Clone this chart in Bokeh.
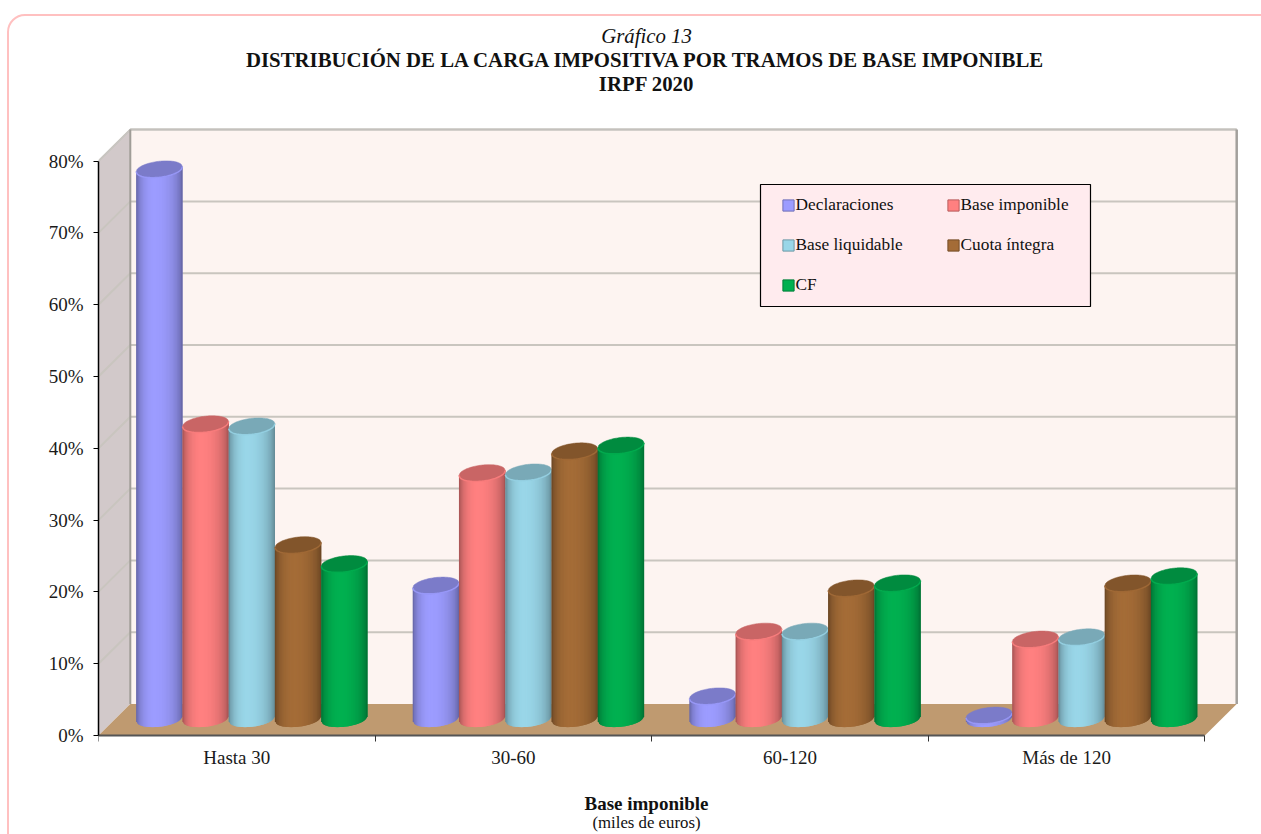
import math
from bokeh.plotting import figure
from bokeh.embed import file_html
from bokeh.resources import INLINE
from bokeh.models import (ColumnDataSource, Range1d, LinearAxis, FixedTicker, Label,
                          Legend, LegendItem, InlineStyleSheet)

# ---------- data ----------
categories = ["Hasta 30", "30-60", "60-120", "Más de 120"]
series_names = ["Declaraciones", "Base imponible", "Base liquidable", "Cuota íntegra", "CF"]
declaraciones = [76.67, 18.7, 3.27, 0.6]
base_imponible = [41.17, 34.36, 12.29, 11.19]
base_liquidable = [40.87, 34.46, 12.29, 11.5]
cuota_integra = [24.33, 37.4, 18.31, 19.0]
cf = [21.7, 38.2, 19.01, 20.0]
series_values = [declaraciones, base_imponible, base_liquidable, cuota_integra, cf]
series_colors = ["#9c9cff", "#ff8080", "#99d6e8", "#a46c37", "#00b050"]
y_ticks = [0, 10, 20, 30, 40, 50, 60, 70, 80]
y_tick_labels = ["0%", "10%", "20%", "30%", "40%", "50%", "60%", "70%", "80%"]

# ---------- geometry (page pixels -> data) ----------
W, H = 1261, 834
X0, Y0 = 98.0, 735.0          # page position of the axes origin
PX_X, PX_Y = 276.6, 7.18      # pixels per category, pixels per percent
def px(x): return (x - X0) / PX_X
def py(y): return (Y0 - y) / PX_Y
DX, DY = 31.8 / PX_X, 31.5 / PX_Y  # 3D depth
SERIF = "Liberation Serif"

p = figure(frame_width=W - 98, frame_height=H, output_backend="svg", toolbar_location=None,
           x_range=Range1d(0, px(W)), y_range=Range1d(py(H), py(0)),
           min_border_left=98, min_border_right=0, min_border_top=0, min_border_bottom=0,
           x_axis_type=None, y_axis_type=None)
p.outline_line_color = None
p.xgrid.visible = False
p.ygrid.visible = False
p.stylesheets = [InlineStyleSheet(css=""":host{overflow:hidden}
:host::after{content:"";position:absolute;left:7px;top:14px;width:1400px;height:1400px;
border:2px solid #ffc0c0;border-radius:18px;pointer-events:none;box-sizing:border-box}""")]

# ---------- axes ----------
ya = LinearAxis(ticker=FixedTicker(ticks=y_ticks), bounds=(0, 80))
ya.major_label_overrides = {t: l for t, l in zip(y_ticks, y_tick_labels)}
ya.major_label_text_font = SERIF
ya.major_label_text_font_size = "19px"
ya.major_label_text_color = "#1a1a1a"
ya.major_label_standoff = 10
ya.major_tick_out = 5
ya.major_tick_in = 0
ya.minor_tick_out = 0
ya.minor_tick_in = 0
ya.axis_line_color = "#000000"
ya.major_tick_line_color = "#000000"
ya.axis_line_width = 1.5
p.add_layout(ya, "left")

# ---------- 3D box ----------
n = len(categories)
p.patch([DX, n + DX, n + DX, DX], [DY, DY, 80 + DY, 80 + DY], fill_color="#fdf4f1", line_color=None)
p.patch([0, DX, DX, 0], [0, DY, 80 + DY, 80], fill_color="#d2c9ca", line_color=None)
for t in y_ticks[1:]:
    p.line([0, DX, n + DX], [t, t + DY, t + DY], line_color="#c9c5bf", line_width=2)
p.line([0, DX], [80, 80 + DY], line_color="#c8c5c1", line_width=1.5)
p.line([DX, n + DX], [80 + DY, 80 + DY], line_color="#c4c1bd", line_width=2)
p.line([DX, DX], [DY, 80 + DY], line_color="#a09d98", line_width=2)
p.line([n + DX, n + DX], [DY, 80 + DY], line_color="#a3a09c", line_width=2.5)
p.patch([0, n, n + DX, DX], [0, 0, DY, DY], fill_color="#bf9a70", line_color=None)

label_pos = [i + 0.5 for i in range(len(categories))]
xa = LinearAxis(ticker=FixedTicker(ticks=label_pos, minor_ticks=list(range(len(categories) + 1))),
                bounds=(0, len(categories)), fixed_location=0)
xa.major_label_overrides = {t: c for t, c in zip(label_pos, categories)}
xa.major_label_text_font = SERIF
xa.major_label_text_font_size = "19px"
xa.major_label_text_color = "#1a1a1a"
xa.major_label_standoff = 5
xa.major_tick_out = 0
xa.major_tick_in = 0
xa.minor_tick_out = 6
xa.minor_tick_in = 0
xa.minor_tick_line_color = "#333333"
xa.axis_line_color = "#555555"
xa.axis_line_width = 2
p.add_layout(xa, "below")

# ---------- cylinders ----------
A, B, S = 23.2, 8.0, 2.5      # half width, half depth, tilt (pixels)
STEP = 46.25                  # spacing between bars (pixels)
STRIPS = 34
BASE = DY / 2                 # cylinders stand at mid depth
FOOT = BASE + 1 / PX_Y

def shade(hex_color, k):
    r, g, b = (int(hex_color[i:i + 2], 16) for i in (1, 3, 5))
    return "#%02x%02x%02x" % (round(r * k), round(g * k), round(b * k))

def arc(u, sign):
    return (sign * B * math.sqrt(max(0.0, 1 - u * u)) + S * u) / PX_Y

legend_items = []
for s, (name, vals, col) in enumerate(zip(series_names, series_values, series_colors)):
    xs, ys, cols = [], [], []
    tx, ty = [], []
    lx, ly = [], []
    centers = [g + 0.5 + 15.0 / PX_X + (s - 2) * STEP / PX_X for g in range(len(vals))]
    core = p.quad(left=[c - 15 / PX_X for c in centers], right=[c + 15 / PX_X for c in centers],
                  bottom=[BASE] * len(vals), top=[BASE + v for v in vals],
                  fill_color=col, line_color=shade(col, 0.72), line_width=1)
    legend_items.append(LegendItem(label=name, renderers=[core]))
    for cx, v in zip(centers, vals):
        top = BASE + v
        for k in range(STRIPS):
            u0 = -1 + 2 * k / STRIPS
            u1 = min(1.0, -1 + 2 * (k + 2) / STRIPS)   # overlaps the next strip, no seams
            um = -1 + 2 * (k + 0.5) / STRIPS
            span = (um + 0.2) / (0.8 if um < -0.2 else 1.2)
            f = max(0.0, 1 - span * span) ** 0.55
            x0, x1 = cx + u0 * A / PX_X, cx + u1 * A / PX_X
            xs.append([x0, x1, x1, x0])
            ys.append([top + arc(u0, -1), top + arc(u1, -1), FOOT + arc(u1, -1), FOOT + arc(u0, -1)])
            cols.append(shade(col, 0.58 + 0.42 * f))
        us = [-1 + 2 * k / 40 for k in range(41)]
        tx.append([cx + u * A / PX_X for u in us] + [cx + u * A / PX_X for u in reversed(us)])
        ty.append([top + arc(u, -1) for u in us] + [top + arc(u, 1) for u in reversed(us)])
        lx.append([cx + u * A / PX_X for u in us])
        ly.append([top + arc(u, -1) for u in us])
    src = ColumnDataSource(dict(xs=xs, ys=ys, c=cols))
    p.patches("xs", "ys", source=src, fill_color="c", line_color=None)
    p.patches(tx, ty, fill_color=shade(col, 0.79), line_color=shade(col, 0.79), line_width=0.5)
    p.multi_line(lx, ly, line_color=shade(col, 1.0), line_width=1.5, line_alpha=0.8)

# ---------- legend ----------
p.quad(left=[px(760)], right=[px(1090)], top=[py(184)], bottom=[py(306)],
       fill_color="#ffebee", line_color="#000000", line_width=1.2)
leg = Legend(items=legend_items, ncols=2, orientation="horizontal", location=(780.6 - X0, H - 295),
             background_fill_alpha=0, border_line_alpha=0, padding=0, margin=0,
             spacing=20, glyph_width=14, glyph_height=14, label_standoff=1, label_width=130, label_height=20,
             label_text_font=SERIF, label_text_font_size="17.3px", label_text_color="#111111")
p.add_layout(leg, "center")

# ---------- titles ----------
def text(x, y, s, size, style="normal"):
    p.add_layout(Label(x=px(x), y=py(y), text=s, text_font=SERIF, text_font_size=size,
                       text_font_style=style, text_align="center", text_baseline="middle",
                       text_color="#111111"))
text(646, 35, "Gráfico 13", "20.8px", "italic")
text(646, 59, "DISTRIBUCIÓN DE LA CARGA IMPOSITIVA POR TRAMOS DE BASE IMPONIBLE", "20.8px", "bold")
text(646, 83, "IRPF 2020", "20.8px", "bold")
text(646, 803, "Base imponible", "19px", "bold")
text(646, 822, "(miles de euros)", "16.8px")

open("out.html", "w").write(file_html(p, INLINE))
